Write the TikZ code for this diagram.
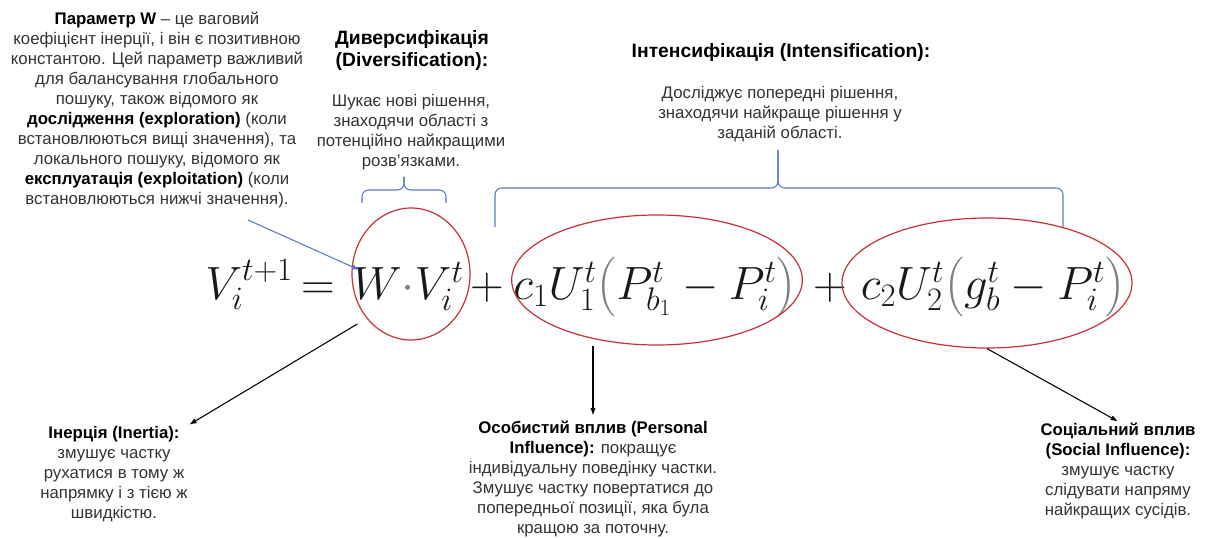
\documentclass[tikz,border=0pt]{standalone}
\usepackage{fix-cm}
\usepackage[no-math]{fontspec}
\setmainfont{Liberation Sans}
\usepackage{amsmath}
\usetikzlibrary{shapes.geometric,arrows.meta,calc}
\definecolor{bracecol}{HTML}{5B7BC8}
\definecolor{ovalcol}{HTML}{C8303A}
\definecolor{inkcol}{HTML}{333333}
\newcommand{\keyw}[1]{\textcolor{black}{\textbf{#1}}}
\tikzset{oval/.style={ellipse,draw=ovalcol,line width=0.9pt,inner sep=0pt},
         brace/.style={draw=bracecol,line width=0.8pt,rounded corners=5pt},
         note/.style={align=center,text=inkcol,font=\fontsize{12.6}{15}\selectfont,inner sep=1pt},
         head/.style={align=center,font=\bfseries\fontsize{14.5}{16.5}\selectfont,inner sep=1pt},
         eqn/.style={text=black!90,font=\fontsize{35}{42}\selectfont,inner sep=0pt,anchor=base},
         arr/.style={-{Latex[length=5.5pt,width=4pt]},line width=0.8pt}}

\begin{document}
\begin{tikzpicture}[x=0.75pt,y=-0.75pt]
\useasboundingbox (0,0) rectangle (1209,538);
\node[note] (paramtxt) at (157,110) {\keyw{Параметр W} – це ваговий\\коефіцієнт інерції, і він є позитивною\\константою. Цей параметр важливий\\для балансування глобального\\пошуку, також відомого як\\\keyw{дослідження (exploration)} (коли\\встановлюються вищі значення), та\\локального пошуку, відомого як\\\keyw{експлуатація (exploitation)} (коли\\встановлюються нижчі значення).};
\node[head] (divhead) at (412,51) {Диверсифікація\\(Diversification):};
\node[note] (divtxt) at (411,132) {Шукає нові рішення,\\знаходячи області з\\потенційно найкращими\\розв’язками.};
\node[head] (inthead) at (781,53) {Інтенсифікація (Intensification):};
\node[note] (inttxt) at (780,114) {Досліджує попередні рішення,\\знаходячи найкраще рішення у\\заданій області.};

\draw[brace] (362,203) -- (362,190) -- (404,190) -- (404,177);
\draw[brace] (446,203) -- (446,190) -- (404,190) -- (404,177);
\draw[brace] (495,227) -- (495,188) -- (778,188) -- (778,150);
\draw[brace] (1063,227) -- (1063,188) -- (778,188) -- (778,150);

\node[eqn,anchor=base west] (lhs) at (205,299) {$V_i^{t+1}$};
\node[eqn] (eqsign) at (318,299) {$=$};
\node[eqn] (wterm) at (408,299) {$W{\color{gray}\cdot}V_i^t$};
\node[eqn] (plusa) at (487,299) {$+$};
\node[eqn] (pterm) at (655,299) {$c_1U_1^t{\color{gray}\bigl(}P_{b_1}^t-P_i^t{\color{gray}\bigr)}$};
\node[eqn] (plusb) at (830,299) {$+$};
\node[eqn] (sterm) at (993,299) {$c_2U_2^t{\color{gray}\bigl(}g_b^t-P_i^t{\color{gray}\bigr)}$};

\node[oval,minimum width=88.5pt,minimum height=99pt] (inert) at (411,274) {};
\node[oval,minimum width=218pt,minimum height=97.5pt] (persell) at (657,280) {};
\node[oval,minimum width=217.5pt,minimum height=97.5pt] (socell) at (987,283) {};

\node[note] (inerttxt) at (114,474) {\keyw{Інерція (Inertia):}\\змушує частку\\рухатися в тому ж\\напрямку і з тією ж\\швидкістю.};
\node[note] (perstxt) at (593,479) {\keyw{Особистий вплив (Personal}\\\keyw{Influence):} покращує\\індивідуальну поведінку частки.\\Змушує частку повертатися до\\попередньої позиції, яка була\\кращою за поточну.};
\node[note] (soctxt) at (1118,471) {\keyw{Соціальний вплив}\\\keyw{(Social Influence):}\\змушує частку\\слідувати напряму\\найкращих сусідів.};

\coordinate (wtail) at (248,220);
\draw[arr,bracecol] (wtail) -- ($(inert.west)+(8,-4)$);
\draw[arr,shorten <=8pt] (inert.-135) -- (inerttxt.north east);
\draw[arr,shorten >=3pt] (perstxt.north |- persell.south) -- (perstxt.north);
\draw[arr] (socell.south) -- (soctxt.north);
\end{tikzpicture}
\end{document}
